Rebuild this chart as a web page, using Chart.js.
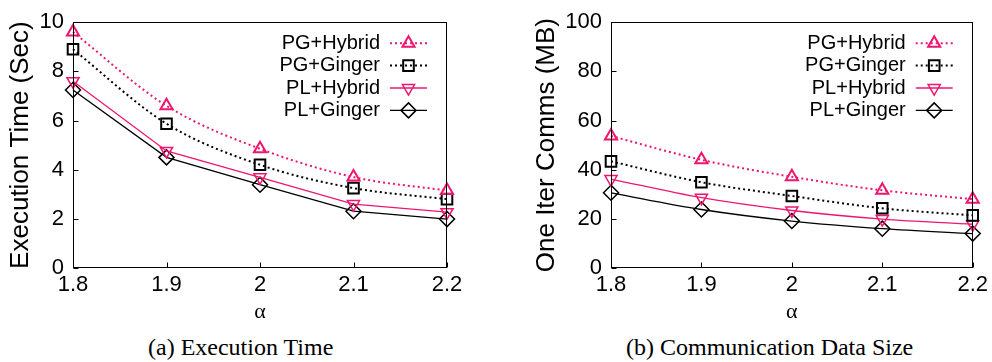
<!DOCTYPE html>
<html>
<head>
<meta charset="utf-8">
<script src="https://cdn.jsdelivr.net/npm/chart.js@4.4.1/dist/chart.umd.min.js"></script>
<style>
  body { margin: 0; background: #fff; width: 992px; height: 362px; position: relative; overflow: hidden; }
  canvas { position: absolute; top: 0; }
  .cap { position: absolute; top: 335px; font: 24px 'Liberation Serif', serif; line-height: 1; white-space: nowrap; color: #000; }
</style>
</head>
<body>
<canvas id="timeChart" width="496" height="330" style="left:0"></canvas>
<canvas id="commsChart" width="496" height="330" style="left:496px"></canvas>
<div class="cap" style="left:148px">(a) Execution Time</div>
<div class="cap" style="left:626px">(b) Communication Data Size</div>
<script>
// alpha values on the x axis
const alphas = ['1.8', '1.9', '2', '2.1', '2.2'];
const seriesNames = ['PG+Hybrid', 'PG+Ginger', 'PL+Hybrid', 'PL+Ginger'];

// execution time (sec)
const timePGHybrid = [9.6, 6.6, 4.85, 3.7, 3.15];
const timePGGinger = [8.9, 5.87, 4.2, 3.25, 2.8];
const timePLHybrid = [7.6, 4.76, 3.69, 2.6, 2.27];
const timePLGinger = [7.24, 4.5, 3.39, 2.31, 1.99];

// one iteration communication (MB)
const commsPGHybrid = [53.7, 44.0, 37.1, 31.6, 28.0];
const commsPGGinger = [43.4, 34.9, 29.3, 24.3, 21.4];
const commsPLHybrid = [36.2, 28.6, 23.4, 19.9, 17.8];
const commsPLGinger = [30.6, 23.8, 19.1, 16.0, 14.0];

const pink = '#ee1670';
const styles = [
  { color: pink,   dash: [2, 3], width: 2,   point: 'triangle', rot: 0,   r: 7,   pw: 2 },
  { color: '#000', dash: [2, 3], width: 2,   point: 'rect',     rot: 0,   r: 7.5, pw: 2 },
  { color: pink,   dash: [],     width: 1.3, point: 'triangle', rot: 180, r: 7,   pw: 1.5 },
  { color: '#000', dash: [],     width: 1.3, point: 'rectRot',  rot: 0,   r: 7.5, pw: 1.5 }
];

Chart.defaults.font.family = "'Liberation Sans', Arial, sans-serif";
Chart.defaults.color = '#000';

// frame, inward ticks and the key inside the plot
const frameAndKey = {
  id: 'frameAndKey',
  afterDatasetsDraw(chart) {
    const { ctx, chartArea: a, scales } = chart;
    const L = Math.round(a.left) + 0.5, R = Math.round(a.right) - 0.5;
    const T = Math.round(a.top) + 0.5, B = Math.round(a.bottom) - 0.5;
    ctx.save();
    ctx.strokeStyle = '#000';
    ctx.lineWidth = 1;
    ctx.setLineDash([]);
    ctx.strokeRect(L, T, R - L, B - T);
    ctx.beginPath();
    scales.x.ticks.forEach((t, i) => {
      const px = Math.round(scales.x.getPixelForTick(i)) + 0.5;
      ctx.moveTo(px, B); ctx.lineTo(px, B - 5);
    });
    scales.y.ticks.forEach(t => {
      const py = Math.round(scales.y.getPixelForValue(t.value)) + 0.5;
      ctx.moveTo(L, py); ctx.lineTo(L + 5, py);
    });
    ctx.stroke();

    ctx.font = "20px 'Liberation Sans', Arial, sans-serif";
    ctx.textAlign = 'right';
    ctx.textBaseline = 'middle';
    seriesNames.forEach((name, i) => {
      const s = styles[i];
      const y = a.top + 21 + i * 22.4;
      ctx.fillStyle = '#000';
      ctx.fillText(name, a.right - 67, y);
      ctx.strokeStyle = s.color;
      ctx.lineWidth = s.width;
      ctx.setLineDash(s.dash);
      ctx.beginPath();
      ctx.moveTo(a.right - 57, y);
      ctx.lineTo(a.right - 20, y);
      ctx.stroke();
      ctx.setLineDash([]);
      ctx.lineWidth = s.pw;
      ctx.fillStyle = 'rgba(0,0,0,0)';
      Chart.helpers.drawPoint(ctx, { pointStyle: s.point, rotation: s.rot, radius: s.r, borderWidth: s.pw }, a.right - 38.5, y);
    });
    ctx.restore();
  }
};

function makeDatasets(seriesList, curvedSolid) {
  return seriesList.map((vals, i) => {
    const s = styles[i];
    return {
      label: seriesNames[i],
      data: vals,
      borderColor: s.color,
      borderWidth: s.width,
      borderDash: s.dash,
      borderCapStyle: 'butt',
      pointStyle: s.point,
      pointRotation: s.rot,
      pointRadius: s.r,
      pointBorderWidth: s.pw,
      pointBorderColor: s.color,
      pointBackgroundColor: 'rgba(0,0,0,0)',
      cubicInterpolationMode: (s.dash.length || curvedSolid) ? 'monotone' : 'default',
      tension: 0,
      fill: false
    };
  });
}

function makeChart(id, datasets, yMax, yStep, yTitle, yTitlePad, padRight, curvedSolid) {
  return new Chart(document.getElementById(id), {
    type: 'line',
    data: { labels: alphas, datasets: makeDatasets(datasets, curvedSolid) },
    options: {
      responsive: false,
      animation: false,
      devicePixelRatio: 1,
      layout: { padding: { top: 13, right: padRight, bottom: 0, left: 0 } },
      plugins: { legend: { display: false }, tooltip: { enabled: false } },
      scales: {
        x: {
          type: 'category',
          offset: false,
          grid: { display: false, drawTicks: false },
          border: { display: false },
          ticks: { font: { size: 22 }, padding: 4, maxRotation: 0, autoSkip: false },
          title: { display: true, text: 'α', font: { family: "'Liberation Serif', serif", size: 22 }, padding: { top: 0, bottom: 5 } },
          afterFit: sc => { sc.height = 62; }
        },
        y: {
          min: 0,
          max: yMax,
          grid: { display: false, drawTicks: false },
          border: { display: false },
          ticks: { stepSize: yStep, font: { size: 22 }, padding: 9 },
          title: { display: true, text: yTitle, font: { size: 26 }, padding: { top: yTitlePad, bottom: 0 } },
          afterFit: sc => { sc.width = id === 'timeChart' ? 73 : 115; }
        }
      }
    },
    plugins: [frameAndKey]
  });
}

makeChart('timeChart', [timePGHybrid, timePGGinger, timePLHybrid, timePLGinger],
  10, 2, 'Execution Time (Sec)', 5, 49, false);
makeChart('commsChart', [commsPGHybrid, commsPGGinger, commsPLHybrid, commsPLGinger],
  100, 20, 'One Iter Comms (MB)', 35, 18, true);
</script>
</body>
</html>
